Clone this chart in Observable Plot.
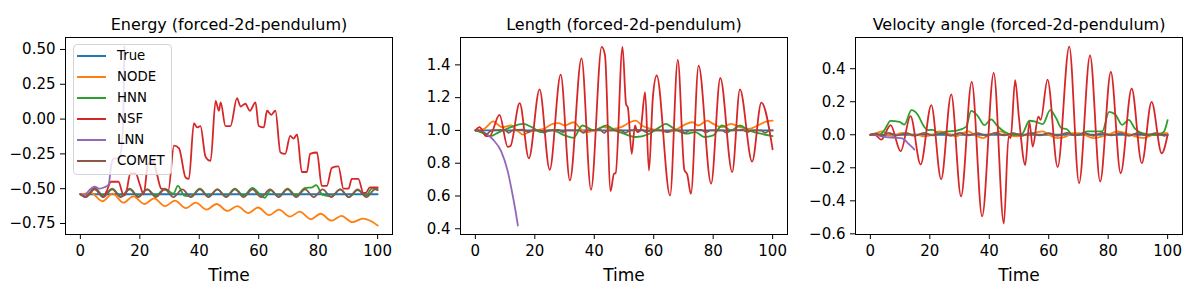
<!DOCTYPE html>
<html><head><meta charset="utf-8">
<script src="https://cdn.jsdelivr.net/npm/d3@7"></script>
<script src="https://cdn.jsdelivr.net/npm/@observablehq/plot@0.6"></script>
<style>
body{margin:0;background:#fff;}
#wrap{position:relative;width:1200px;height:300px;font-family:"DejaVu Sans",sans-serif;background:#fff;}
.panel{position:absolute;top:0;}
#legend{position:absolute;left:73px;top:44px;width:99px;height:131px;background:rgba(255,255,255,0.8);border:1px solid #d4d4d4;border-radius:4px;box-sizing:border-box;font-size:13.3px;z-index:5;}
.sw{position:absolute;left:3px;width:29px;height:0;border-top:2px solid;}
.lab{position:absolute;left:43px;line-height:16px;color:#000;}
</style>
</head><body><div id="wrap"></div>
<script>
// ---------- categories / labels ----------
const methods = ["True", "NODE", "HNN", "NSF", "LNN", "COMET"];
const colors = ["#1f77b4", "#ff7f0e", "#2ca02c", "#d62728", "#9467bd", "#8c564b"];
const titles = ["Energy (forced-2d-pendulum)", "Length (forced-2d-pendulum)", "Velocity angle (forced-2d-pendulum)"];
const xLabel = "Time";
const xTicks = [0, 20, 40, 60, 80, 100];
const energyTicks = [-0.75, -0.5, -0.25, 0, 0.25, 0.5];
const lengthTicks = [0.4, 0.6, 0.8, 1.0, 1.2, 1.4];
const angleTicks = [-0.6, -0.4, -0.2, 0.0, 0.2, 0.4];

// ---------- Energy series [time, value] ----------
const energyTrue = [[0,-0.54],[100,-0.54]];
const energyNODE = [[0,-0.54],[1.5,-0.535],[3.5,-0.53],[7.5,-0.59],[10.8,-0.535],[14.5,-0.60],[17.8,-0.555],[21.5,-0.61],[24.8,-0.57],[28.5,-0.625],[31.8,-0.585],[35.5,-0.64],[38.8,-0.60],[42.5,-0.65],[45.8,-0.61],[49.5,-0.66],[52.8,-0.625],[56.5,-0.675],[59.8,-0.635],[63.5,-0.69],[66.8,-0.65],[70.5,-0.70],[73.8,-0.665],[77.5,-0.72],[80.8,-0.68],[84.5,-0.73],[87.8,-0.695],[91.5,-0.74],[95,-0.715],[97.5,-0.73],[100,-0.765]];
const energyHNN = [[0,-0.54],[1.8,-0.555],[4.8,-0.495],[7.7,-0.55],[10.7,-0.50],[13.6,-0.555],[16.6,-0.50],[19.5,-0.555],[22.5,-0.505],[25.4,-0.55],[28.4,-0.50],[31.3,-0.535],[32.8,-0.48],[35,-0.55],[37.2,-0.555],[40.2,-0.50],[43.1,-0.555],[46.1,-0.505],[49,-0.555],[52,-0.50],[54.9,-0.55],[57.9,-0.495],[60.8,-0.55],[62,-0.565],[64,-0.51],[66.7,-0.555],[69.7,-0.50],[72.6,-0.55],[75.6,-0.495],[78,-0.49],[79.3,-0.475],[81.5,-0.545],[84.4,-0.555],[87.4,-0.505],[90.3,-0.56],[93.3,-0.51],[96.2,-0.55],[98,-0.50],[100,-0.50]];
const energyNSF = [[0,-0.54],[1.8,-0.56],[4.8,-0.50],[7.7,-0.56],[8.8,-0.52],[10.3,-0.45],[12.8,-0.45],[14.6,-0.55],[15.4,-0.53],[16.8,-0.39],[18.6,-0.39],[20,-0.47],[21.3,-0.54],[22.8,-0.32],[24.6,-0.31],[25.8,-0.40],[27.2,-0.50],[29.6,-0.51],[31.5,-0.19],[33.2,-0.21],[35.4,-0.42],[36.5,-0.43],[38.2,-0.03],[39.3,-0.06],[40.4,-0.05],[42.1,-0.27],[43.8,-0.30],[45.5,0.13],[46.6,0.06],[47.2,0.12],[48.8,-0.05],[50.5,-0.05],[52.7,0.15],[53.9,0.09],[55.5,0.11],[57,0.06],[58.9,0.12],[60,-0.05],[61.7,-0.06],[62.8,0.06],[64.2,0.03],[65.6,0.06],[67.3,-0.24],[68.9,-0.25],[70.6,-0.12],[71.7,-0.14],[72.9,-0.11],[74.5,-0.38],[76.2,-0.38],[77.3,-0.25],[79.6,-0.24],[81.2,-0.48],[82.9,-0.48],[84.6,-0.35],[86.8,-0.34],[88.5,-0.50],[90.2,-0.50],[91.3,-0.43],[93.5,-0.43],[95.2,-0.53],[96,-0.53],[97.4,-0.49],[100,-0.49]];
const energyLNN = [[0,-0.54],[1.5,-0.545],[3,-0.51],[4.8,-0.485],[6.5,-0.50],[8.1,-0.49],[9.5,-0.47],[10.4,-0.33],[11,-0.285],[13.1,-0.28],[14.3,-0.08],[14.8,0.52]];
const energyCOMET = [[0,-0.54],[1.8,-0.56],[4.8,-0.505],[7.7,-0.56],[10.7,-0.505],[13.6,-0.56],[16.6,-0.505],[19.5,-0.56],[22.5,-0.505],[25.4,-0.56],[28.4,-0.505],[31.3,-0.56],[34.3,-0.505],[37.2,-0.56],[40.2,-0.505],[43.1,-0.56],[46.1,-0.505],[49,-0.56],[52,-0.505],[54.9,-0.56],[57.9,-0.505],[60.8,-0.56],[63.8,-0.505],[66.7,-0.56],[69.7,-0.505],[72.6,-0.56],[75.6,-0.505],[78.5,-0.56],[81.5,-0.505],[84.4,-0.56],[87.4,-0.505],[90.3,-0.56],[93.3,-0.505],[96.2,-0.56],[99.2,-0.505],[100,-0.51]];

// ---------- Length series ----------
const lengthTrue = [[0,1.0],[100,1.0]];
const lengthNODE = [[0,1.0],[3,1.01],[6,1.055],[9,1.02],[12,1.03],[14,1.0],[16,0.975],[18,0.99],[20,1.0],[23,1.01],[26,1.04],[28,1.045],[30,1.03],[33,1.05],[36,1.0],[38,0.99],[40,1.0],[43,1.02],[46,1.01],[49,1.02],[52,1.05],[54,1.06],[56,1.03],[59,1.01],[62,1.0],[65,0.99],[68,1.01],[71,1.04],[73,1.05],[75,1.03],[78,1.06],[80,1.04],[83,1.02],[86,1.04],[89,1.02],[92,1.01],[95,1.03],[98,1.055],[100,1.06]];
const lengthHNN = [[0,1.0],[3,0.98],[5,0.965],[8,0.99],[12,1.02],[16,1.04],[19,1.02],[22,0.99],[26,1.0],[30,0.97],[33,0.955],[36,1.03],[40,1.0],[44,1.03],[47,1.0],[50,0.98],[54,0.96],[58,0.975],[62,1.02],[64,1.04],[67,1.01],[71,0.98],[74,0.99],[77,0.96],[80,0.97],[83,1.03],[86,1.0],[89,1.03],[92,1.0],[96,0.98],[100,0.965]];
const lengthNSF = [[0,1.0],[1.4,1.02],[3.6,0.965],[4.8,0.965],[8.1,1.095],[10.9,0.90],[11.8,0.905],[14.9,1.166],[18,0.83],[21.6,1.25],[25,0.76],[28.7,1.34],[31.8,0.695],[35.7,1.44],[38.9,0.638],[42.5,1.51],[43.6,1.46],[45.5,0.63],[46.6,0.735],[47.2,0.74],[49.5,1.51],[50.7,1.16],[51.3,1.14],[52.6,0.857],[53.7,1.03],[54.5,0.99],[55.5,1.0],[57.1,1.233],[58.4,0.755],[59.7,1.2],[61,1.335],[65.5,0.603],[68.1,1.43],[70.3,0.76],[71.3,0.73],[72.5,0.613],[75.1,1.396],[79.3,0.675],[82.4,1.32],[86.4,0.745],[89,1.25],[93.1,0.81],[96.2,1.17],[100,0.885]];
const lengthLNN = [[0,1.0],[2,0.995],[3.6,0.98],[5.9,0.945],[8.7,0.872],[10.9,0.75],[12.6,0.6],[13.5,0.51],[14.3,0.42]];
const lengthCOMET = [[0,1.0],[2,0.995],[3.8,0.978],[5.5,1.0],[10,1.003],[11.2,0.985],[12.5,1.0],[16,1.005],[17.8,0.99],[19,1.0],[22,1.0],[23.2,0.985],[24.5,1.0],[28,1.003],[29.5,0.99],[31,1.0],[35,1.0],[36.3,0.985],[37.5,1.0],[42,1.003],[43.3,0.985],[44.5,1.0],[49,1.0],[50.5,0.985],[52,1.0],[56,1.003],[57.5,0.99],[59,1.0],[63,1.0],[64.5,0.99],[66,1.0],[69,1.0],[70.5,0.985],[72,1.0],[76,1.003],[77.5,0.988],[79,1.0],[83,1.0],[84.5,0.985],[86,1.0],[90,1.003],[91.5,0.99],[93,1.0],[96,1.0],[97.5,0.985],[99,1.0],[100,1.0]];

// ---------- Velocity angle series ----------
const angleTrue = [[0,0],[100,0]];
const angleNODE = [[0,0],[2,0.01],[4,0.02],[6,0.0],[8,-0.01],[10,0.01],[12,0.01],[14,-0.005],[16,0.0],[18,-0.01],[21,0.0],[23,0.02],[25,0.015],[27,0.0],[29,-0.01],[31,0.01],[33,0.02],[35,0.0],[38,-0.02],[40,0.0],[42,0.01],[44,0.02],[46,0.0],[49,-0.01],[52,0.0],[55,0.01],[58,0.02],[60,0.0],[63,-0.02],[66,-0.01],[68,0.01],[70,0.01],[72,0.0],[75,-0.02],[78,-0.01],[80,0.0],[83,0.02],[86,0.01],[89,-0.01],[92,-0.02],[95,0.0],[98,0.01],[100,0.01]];
const angleHNN = [[0,0],[3,0.0],[4.8,0.03],[6.8,0.084],[9.8,0.078],[11.5,0.062],[13.8,0.149],[16,0.12],[17.7,0.06],[19.4,0.028],[21,0.03],[23,0.008],[26,0.02],[29,0.025],[32.2,0.048],[33.9,0.145],[36.1,0.115],[38.4,0.058],[40.6,0.093],[42.9,0.05],[45.1,0.018],[48,0.0],[51,0.005],[53.5,0.085],[55.5,0.08],[58,0.065],[60.5,0.149],[62.5,0.1],[64.3,0.04],[66,0.035],[68,0.0],[70,0.0],[73,0.02],[78,0.02],[80.3,0.139],[82.5,0.12],[84.7,0.06],[86.9,0.09],[89.1,0.035],[91.4,0.01],[95,0.0],[97,0.0],[98.8,0.02],[100,0.089]];
const angleNSF = [[0,0],[1.5,0.0],[3.7,-0.03],[6.8,0.058],[10.2,-0.10],[13.5,0.113],[16.9,-0.18],[20.5,0.179],[23.8,-0.27],[27.2,0.245],[30.5,-0.373],[34.1,0.32],[37.6,-0.494],[41.5,0.374],[44.9,-0.538],[46.5,-0.01],[47.2,-0.02],[48.7,0.33],[50,0.1],[52.1,-0.183],[53.5,0.078],[54.6,-0.072],[56.5,0.11],[57.3,0.09],[59.6,0.334],[63,-0.196],[66.9,0.534],[70.2,-0.293],[73.9,0.48],[77.3,-0.283],[80.9,0.38],[84.2,-0.233],[87.9,0.28],[91.3,-0.172],[94.6,0.199],[98,-0.112],[100,0.0]];
const angleLNN = [[0,0],[2,0.0],[3.7,-0.01],[6,-0.015],[8,-0.018],[10.4,-0.02],[11.5,-0.03],[12.6,-0.05],[14.3,-0.08],[14.8,-0.09]];
const angleCOMET = [[0,0],[2,0.006],[4,-0.006],[6,0.012],[9,-0.004],[12,0.01],[15,-0.006],[18,0.012],[21,-0.004],[24,0.01],[27,-0.006],[30,0.012],[33,-0.004],[36,0.01],[39,-0.006],[42,0.012],[45,-0.004],[48,0.01],[51,-0.006],[54,0.012],[57,-0.004],[60,0.01],[63,-0.006],[66,0.012],[69,-0.004],[72,0.01],[75,-0.006],[78,0.012],[81,-0.004],[84,0.01],[87,-0.006],[90,0.012],[93,-0.004],[96,0.01],[99,-0.006],[100,0.0]];

// ---------- build panels ----------
const panels = [
  {left: 0, ml: 65, mr: 8, title: titles[0], ydomain: [-0.829, 0.586], yticks: energyTicks, fmt: d3.format(".2f"),
   series: [energyTrue, energyNODE, energyHNN, energyNSF, energyLNN, energyCOMET]},
  {left: 400, ml: 60, mr: 13, title: titles[1], ydomain: [0.365, 1.567], yticks: lengthTicks, fmt: d3.format(".1f"),
   series: [lengthTrue, lengthNODE, lengthHNN, lengthNSF, lengthLNN, lengthCOMET]},
  {left: 800, ml: 55, mr: 18, title: titles[2], ydomain: [-0.604, 0.589], yticks: angleTicks, fmt: d3.format(".1f"),
   series: [angleTrue, angleNODE, angleHNN, angleNSF, angleLNN, angleCOMET]}
];

const wrap = document.getElementById("wrap");
panels.forEach(p => {
  const lines = p.series.map((data, i) => Plot.line(data, {
    x: d => d[0], y: d => d[1], stroke: colors[i], strokeWidth: 1.8,
    curve: "monotone-x", clip: true
  }));
  const chart = Plot.plot({
    width: 400, height: 300,
    marginLeft: p.ml, marginRight: p.mr, marginTop: 37, marginBottom: 66,
    style: {fontFamily: "DejaVu Sans", fontSize: "15px", color: "black", background: "transparent", overflow: "visible"},
    x: {domain: [-5, 105]},
    y: {domain: p.ydomain},
    marks: [
      ...lines,
      Plot.frame({stroke: "black", strokeWidth: 1}),
      Plot.axisX({ticks: xTicks, tickFormat: d3.format("d"), tickSize: 5, tickPadding: 6, label: null, fontSize: 15}),
      Plot.axisY({ticks: p.yticks, tickFormat: p.fmt, tickSize: 5, tickPadding: 5, label: null, fontSize: 15}),
      Plot.text([p.title], {text: d => d, frameAnchor: "top", lineAnchor: "middle", dy: -13, fontSize: 16}),
      Plot.text([xLabel], {text: d => d, frameAnchor: "bottom", lineAnchor: "middle", dy: 40.6, fontSize: 17})
    ]
  });
  chart.classList.add("panel");
  chart.style.left = p.left + "px";
  wrap.appendChild(chart);
});

// ---------- legend (panel 1) ----------
const legend = document.createElement("div");
legend.id = "legend";
methods.forEach((m, i) => {
  const c = 11 + i * 20.9;
  const sw = document.createElement("div");
  sw.className = "sw";
  sw.style.top = (c - 1) + "px";
  sw.style.borderTopColor = colors[i];
  const lab = document.createElement("div");
  lab.className = "lab";
  lab.style.top = (c - 8) + "px";
  lab.textContent = m;
  legend.appendChild(sw);
  legend.appendChild(lab);
});
wrap.appendChild(legend);
</script>
</body></html>
